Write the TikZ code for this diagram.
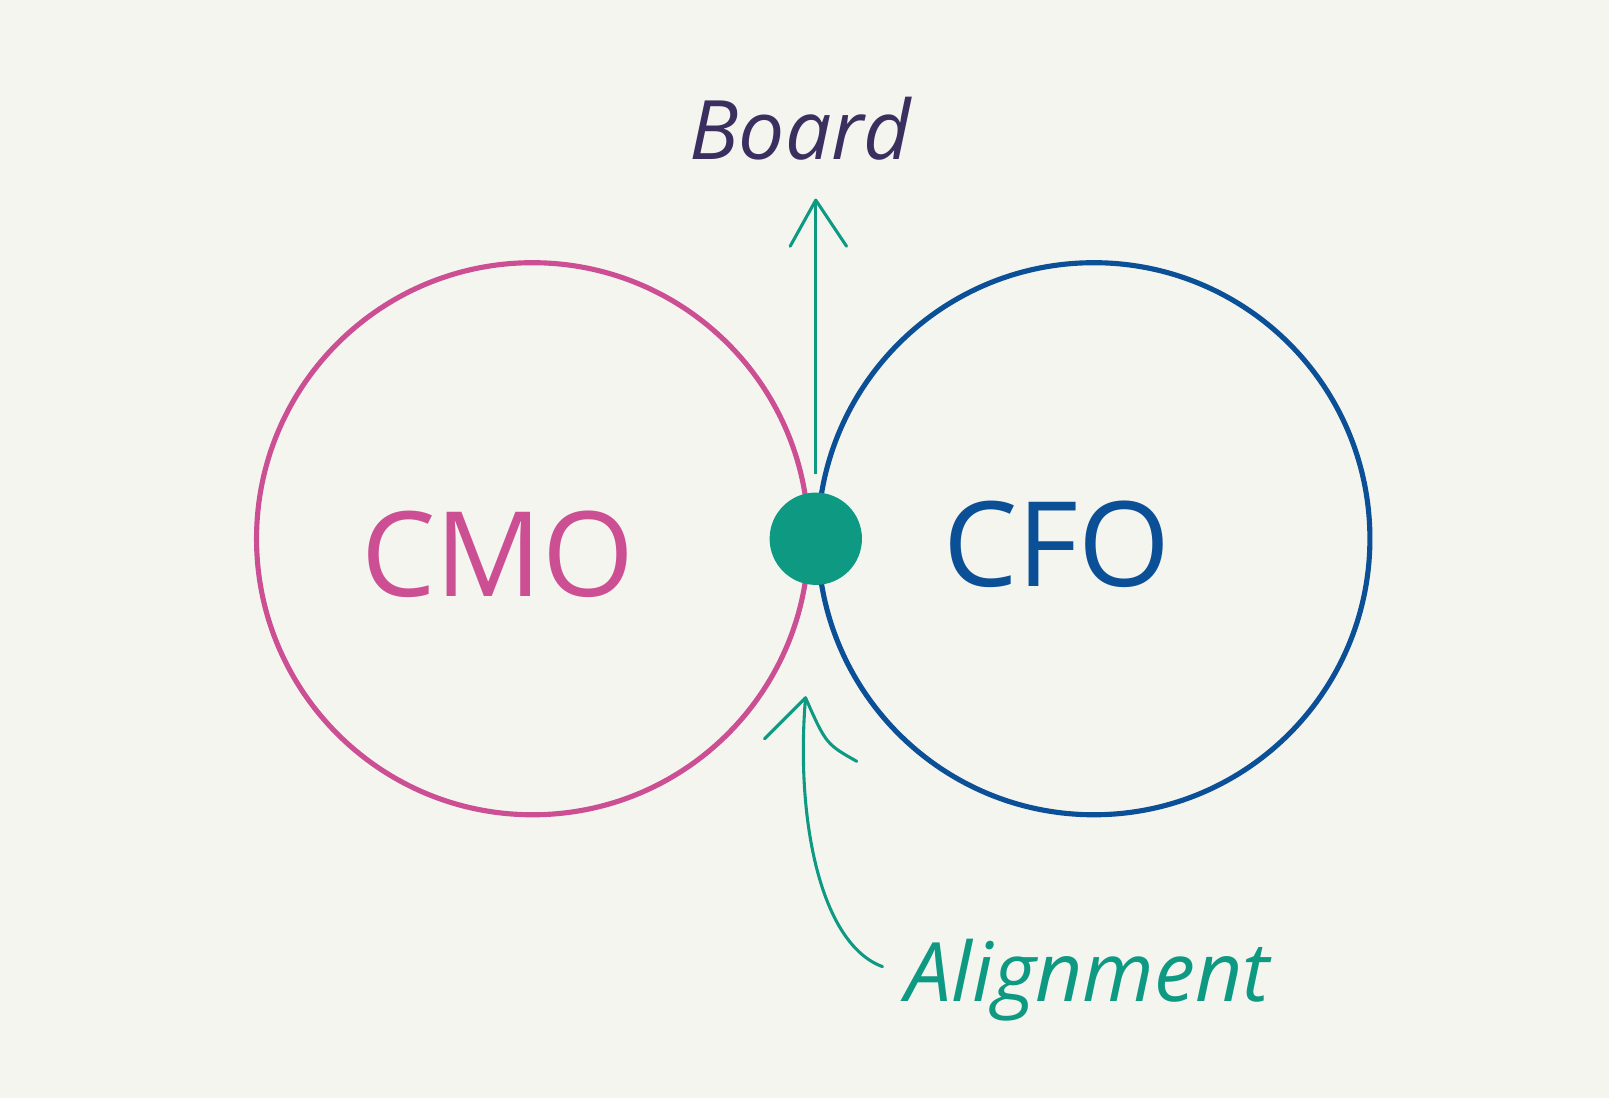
\documentclass[tikz,border=0pt]{standalone}
\usepackage{fontspec}
\setmainfont{Open Sans}
\definecolor{bg}{HTML}{F5F5F0}
\definecolor{pinkc}{HTML}{CC4F94}
\definecolor{bluec}{HTML}{0B4F96}
\definecolor{greenc}{HTML}{0E9A82}
\definecolor{boardc}{HTML}{3A2F5E}
\begin{document}
\begin{tikzpicture}[x=1pt,y=-1pt,
  lbl/.style={font=\fontsize{80}{90}\selectfont\itshape},
  big/.style={font=\fontsize{115}{120}\selectfont},
  ring/.style={circle,line width=5pt,minimum size=538pt,inner sep=0pt}]
\fill[bg] (0,0) rectangle (1568,1070);
\useasboundingbox (0,0) rectangle (1568,1070);
\node[ring,draw=pinkc] (cmo) at (519,525) {};
\node[ring,draw=bluec] (cfo) at (1066,525) {};
\node[big,text=pinkc] (cmot) at (485,540) {CMO};
\node[big,text=bluec] (cfot) at (1030,530) {CFO};
\node[lbl,text=boardc] (board) at (780,125) {Board};
\node[lbl,text=greenc] (align) at (1060,955) {Alignment};
\node[circle,fill=greenc,minimum size=90pt,inner sep=0pt] (dot) at (795,525) {};
\coordinate (top) at (795,195);
\coordinate (tl) at (770,240);
\coordinate (tr) at (825,240);
\draw[greenc,line width=3pt] (795,462) -- (top);
\draw[greenc,line width=3pt,line join=round,line cap=round] (tl) -- (top) -- (tr);
\coordinate (btip) at (785,680);
\coordinate (bl) at (745,720);
\coordinate (br) at (835,742);
\coordinate (bend) at (860,942);
\draw[greenc,line width=3pt,line cap=round] (bend) .. controls (800,920) and (775,800) .. (btip);
\draw[greenc,line width=3pt,line cap=round,line join=round] (bl) .. controls (770,695) .. (btip) .. controls (805,725) .. (br);
\end{tikzpicture}
\end{document}
